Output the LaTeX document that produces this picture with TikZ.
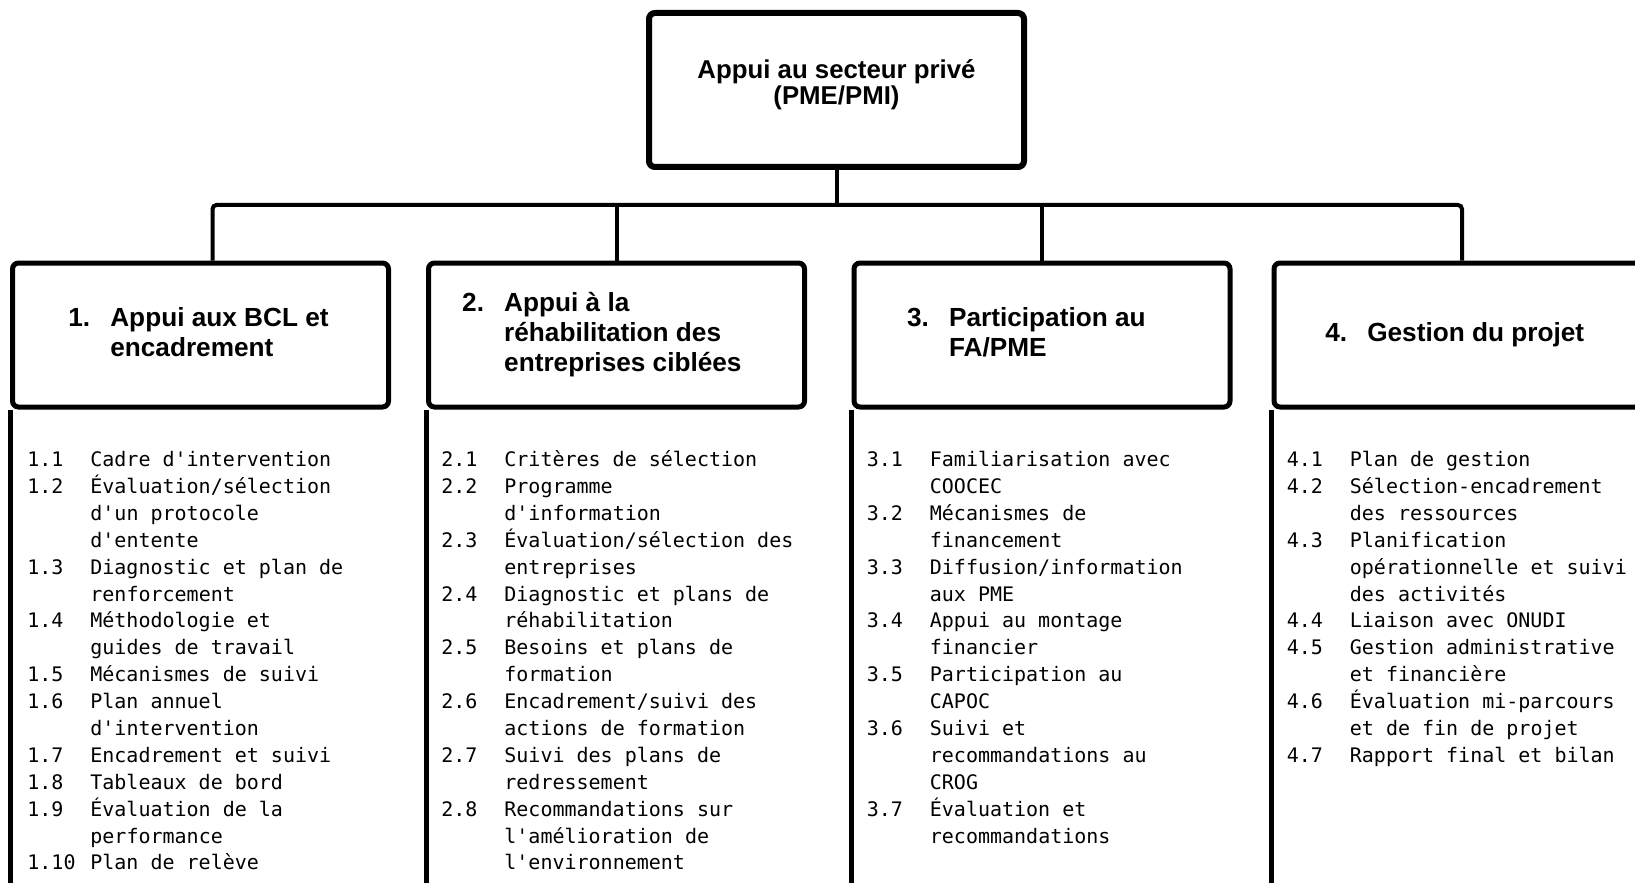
\documentclass[tikz,border=0pt]{standalone}
\usepackage{fontspec}
\setmainfont{Liberation Sans}
\newfontfamily\listfont{DejaVu Sans Mono}
\usetikzlibrary{calc}

\tikzset{
  topbox/.style={draw, line width=3pt, rounded corners=3pt, minimum width=187.5pt,
    minimum height=77pt, align=center, font=\bfseries\fontsize{12.9}{12.5}\selectfont},
  headbox/.style={draw, line width=2.5pt, rounded corners=3pt, minimum width=188pt,
    minimum height=72pt, font=\bfseries\fontsize{13.1}{15}\selectfont},
  link/.style={line width=2pt},
  colline/.style={line width=2.5pt},
  items/.style={anchor=base west, inner sep=0pt, font=\listfont\fontsize{10}{13.45}\selectfont}
}

\begin{document}
\begin{tikzpicture}[x=0.5pt, y=-0.5pt]
  \useasboundingbox (0,0) rectangle (1635,883);
  \clip (0,0) rectangle (1635,883);
  \coordinate (bar) at (0,205);
  \coordinate (bottom) at (0,900);
  \node[topbox] (top) at (836.5,90) {\raisebox{2.1pt}[\height][\depth]{%
    \begin{tabular}{@{}c@{}}Appui au secteur privé\\(PME/PMI)\end{tabular}}};
  \node[headbox] (h1) at (200.5,335) {\begin{tabular}{@{}p{21pt}@{}l@{\hspace{2pt}}}
    1.&Appui aux BCL et\\&encadrement\end{tabular}};
  \node[headbox] (h2) at (616.5,335) {\begin{tabular}{@{}p{21pt}@{}l@{\hspace{14.6pt}}}
    2.&Appui à la\\&réhabilitation des\\&entreprises ciblées\end{tabular}};
  \node[headbox] (h3) at (1042,335) {\begin{tabular}{@{}p{21pt}@{}l@{\hspace{15.6pt}}}
    3.&Participation au\\&FA/PME\end{tabular}};
  \node[headbox] (h4) at (1462,335) {\begin{tabular}{@{}p{21pt}@{}l@{\hspace{7.3pt}}}
    4.&Gestion du projet\end{tabular}};
  \draw[link] (top.south) -- (top.south |- bar);
  \draw[link, rounded corners=2pt] ([xshift=6pt]h1.north) |- (h4.north |- bar) -- (h4.north);
  \draw[link] (h2.north) -- (h2.north |- bar);
  \draw[link] (h3.north) -- (h3.north |- bar);
  \foreach \i in {1,...,4}
    \draw[colline] (h\i.south west) -- (h\i.south west |- bottom);
  \node[items] (l1) at ($(h1.south west)+(17,57)$) {\begin{tabular}[t]{@{}p{31.5pt}@{}l@{}}
    1.1&Cadre d'intervention\\
    1.2&Évaluation/sélection\\&d'un protocole\\&d'entente\\
    1.3&Diagnostic et plan de\\&renforcement\\
    1.4&Méthodologie et\\&guides de travail\\
    1.5&Mécanismes de suivi\\
    1.6&Plan annuel\\&d'intervention\\
    1.7&Encadrement et suivi\\
    1.8&Tableaux de bord\\
    1.9&Évaluation de la\\&performance\\
    1.10&Plan de relève\end{tabular}};
  \node[items] (l2) at ($(h2.south west)+(15,57)$) {\begin{tabular}[t]{@{}p{31.5pt}@{}l@{}}
    2.1&Critères de sélection\\
    2.2&Programme\\&d'information\\
    2.3&Évaluation/sélection des\\&entreprises\\
    2.4&Diagnostic et plans de\\&réhabilitation\\
    2.5&Besoins et plans de\\&formation\\
    2.6&Encadrement/suivi des\\&actions de formation\\
    2.7&Suivi des plans de\\&redressement\\
    2.8&Recommandations sur\\&l'amélioration de\\&l'environnement\end{tabular}};
  \node[items] (l3) at ($(h3.south west)+(15,57)$) {\begin{tabular}[t]{@{}p{31.5pt}@{}l@{}}
    3.1&Familiarisation avec\\&COOCEC\\
    3.2&Mécanismes de\\&financement\\
    3.3&Diffusion/information\\&aux PME\\
    3.4&Appui au montage\\&financier\\
    3.5&Participation au\\&CAPOC\\
    3.6&Suivi et\\&recommandations au\\&CROG\\
    3.7&Évaluation et\\&recommandations\end{tabular}};
  \node[items] (l4) at ($(h4.south west)+(15,57)$) {\begin{tabular}[t]{@{}p{31.5pt}@{}l@{}}
    4.1&Plan de gestion\\
    4.2&Sélection-encadrement\\&des ressources\\
    4.3&Planification\\&opérationnelle et suivi\\&des activités\\
    4.4&Liaison avec ONUDI\\
    4.5&Gestion administrative\\&et financière\\
    4.6&Évaluation mi-parcours\\&et de fin de projet\\
    4.7&Rapport final et bilan\end{tabular}};
\end{tikzpicture}
\end{document}
